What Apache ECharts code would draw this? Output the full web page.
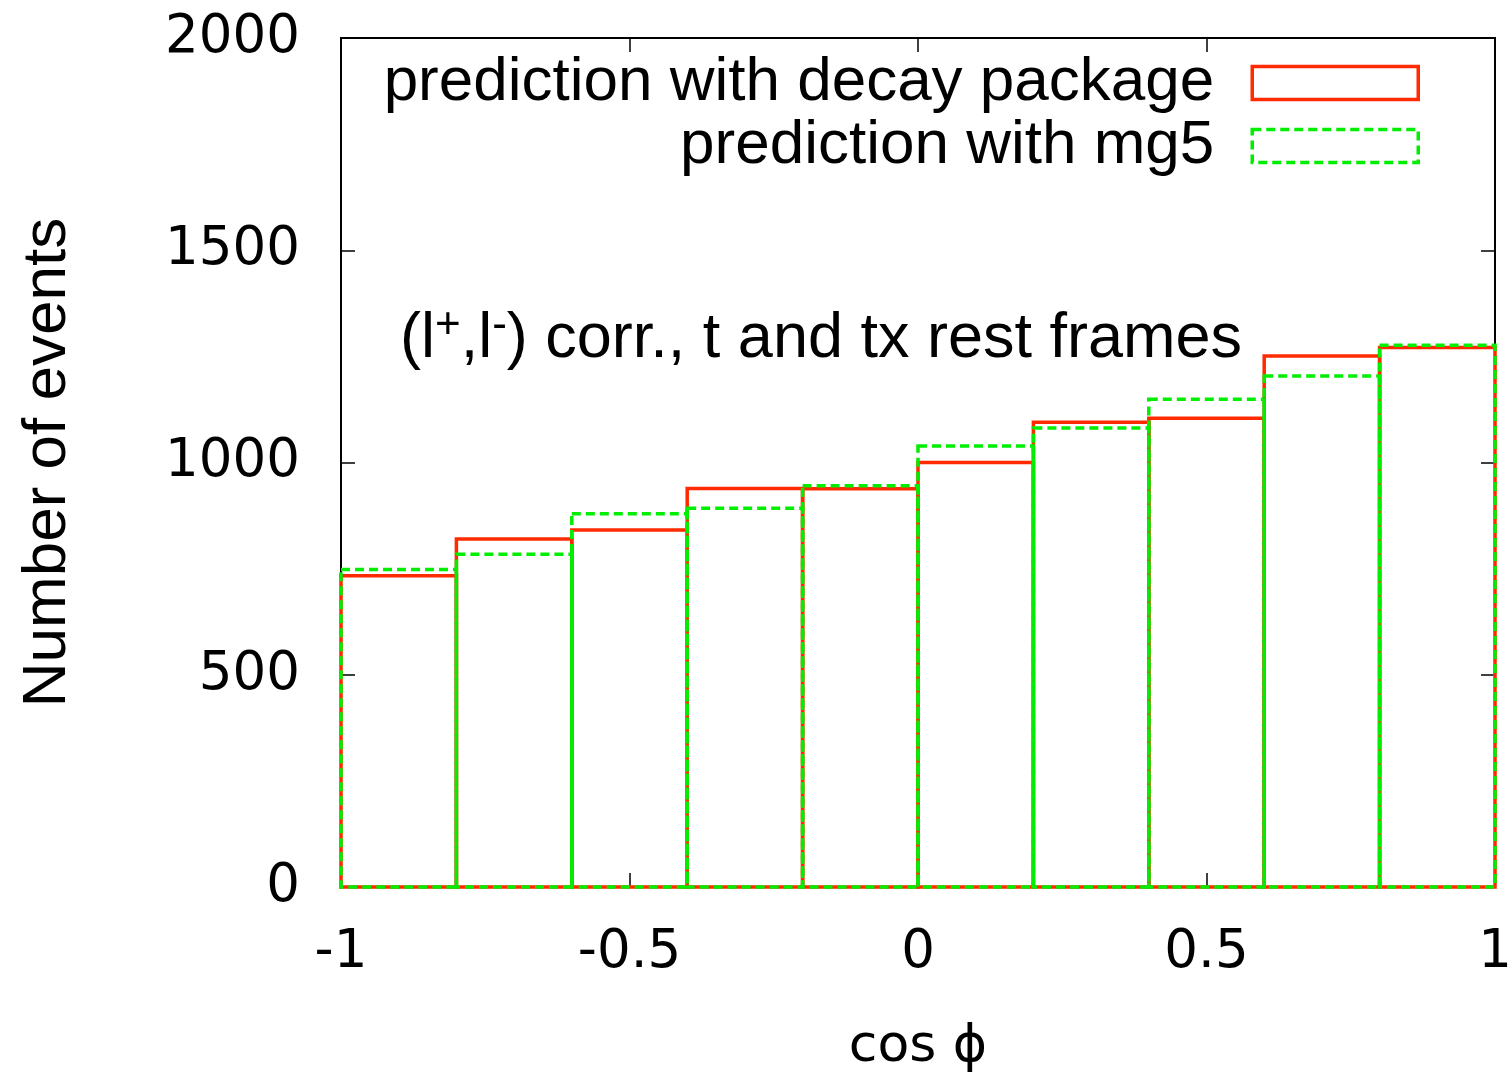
<!DOCTYPE html>
<html>
<head>
<meta charset="utf-8">
<script src="https://cdn.jsdelivr.net/npm/echarts@6/dist/echarts.min.js"></script>
<style>
  html, body { margin: 0; padding: 0; background: #fff; }
  #chart { width: 1512px; height: 1078px; }
</style>
</head>
<body>
<div id="chart"></div>
<script>
// bin edges of cos(phi) and events per bin
const binEdges = [-1, -0.8, -0.6, -0.4, -0.2, 0, 0.2, 0.4, 0.6, 0.8, 1];
const decayPackage = [733, 820, 841, 939, 938, 1000, 1095, 1104, 1251, 1271];
const mg5 = [748, 784, 879, 892, 945, 1039, 1081, 1149, 1204, 1276];

const RED = '#ff2a00';
const GREEN = '#00ee00';
const FONT = 'Liberation Sans';
const TICK_FONT = 'DejaVu Sans';

const toBins = values => values.map((v, i) => [binEdges[i], binEdges[i + 1], v]);

const boxes = (color, dash) => (params, api) => {
    const p0 = api.coord([api.value(0), 0]);
    const p1 = api.coord([api.value(1), api.value(2)]);
    return {
        type: 'rect',
        shape: { x: p0[0], y: p1[1], width: p1[0] - p0[0], height: p0[1] - p1[1] },
        style: { fill: 'none', stroke: color, lineWidth: 3.5, lineDash: dash }
    };
};

const tick = { show: true, inside: true, length: 14, lineStyle: { color: '#000', width: 1.5 } };

const xCommon = {
    type: 'value',
    min: -1,
    max: 1,
    interval: 0.5,
    axisLine: { show: false, onZero: false },
    splitLine: { show: false },
    axisTick: tick
};

const yCommon = {
    type: 'value',
    min: 0,
    max: 2000,
    interval: 500,
    axisLine: { show: false, onZero: false },
    splitLine: { show: false },
    axisTick: tick
};

const chart = echarts.init(document.getElementById('chart'), null, { renderer: 'canvas' });

chart.setOption({
    animation: false,
    backgroundColor: '#fff',
    textStyle: { fontFamily: FONT },
    grid: {
        left: 341, right: 17, top: 38, bottom: 191,
        outerBoundsMode: 'none',
        containLabel: false,
        show: true, borderColor: '#000', borderWidth: 2, backgroundColor: 'transparent'
    },
    legend: {
        orient: 'vertical',
        right: 87,
        top: 47,
        align: 'right',
        itemWidth: 166,
        itemHeight: 33,
        itemGap: 1,
        icon: 'rect',
        selectedMode: false,
        textStyle: { fontFamily: FONT, fontSize: 62, lineHeight: 33, color: '#000', padding: [0, 33, 0, 0] },
        data: [
            { name: 'prediction with decay package', itemStyle: { color: 'transparent', borderColor: RED, borderWidth: 3.5 } },
            { name: 'prediction with mg5', itemStyle: { color: 'transparent', borderColor: GREEN, borderWidth: 3.5, borderType: [9, 5] } }
        ]
    },
    xAxis: [
        Object.assign({}, xCommon, {
            position: 'bottom',
            name: 'cos ϕ',
            nameLocation: 'middle',
            nameGap: 134,
            nameTextStyle: { fontFamily: TICK_FONT, fontSize: 52, color: '#000' },
            axisLabel: { fontSize: 53, color: '#000', margin: 40, fontFamily: TICK_FONT, formatter: v => String(v) }
        }),
        Object.assign({}, xCommon, { position: 'top', axisLabel: { show: false } })
    ],
    yAxis: [
        Object.assign({}, yCommon, {
            position: 'left',
            name: 'Number of events',
            nameLocation: 'middle',
            nameGap: 262,
            nameRotate: 90,
            nameTextStyle: { fontFamily: FONT, fontSize: 62, color: '#000' },
            axisLabel: { fontSize: 53, color: '#000', margin: 41, fontFamily: TICK_FONT, formatter: v => String(v) }
        }),
        Object.assign({}, yCommon, { position: 'right', axisLabel: { show: false } })
    ],
    graphic: [
        {
            type: 'text',
            left: 400,
            top: 304,
            style: {
                text: '(l{sup|+},l{sup|-}) corr., t and tx rest frames',
                font: '63px "Liberation Sans"',
                fill: '#000',
                rich: {
                    sup: { fontSize: 44, fontFamily: FONT, verticalAlign: 'top', padding: [0, 0, 28, 0] }
                }
            }
        }
    ],
    series: [
        {
            name: 'prediction with decay package',
            type: 'custom',
            itemStyle: { color: RED },
            renderItem: boxes(RED, null),
            encode: { x: [0, 1], y: 2 },
            data: toBins(decayPackage),
            z: 2
        },
        {
            name: 'prediction with mg5',
            type: 'custom',
            itemStyle: { color: GREEN },
            renderItem: boxes(GREEN, [9, 5]),
            encode: { x: [0, 1], y: 2 },
            data: toBins(mg5),
            z: 3
        }
    ]
});
</script>
</body>
</html>
